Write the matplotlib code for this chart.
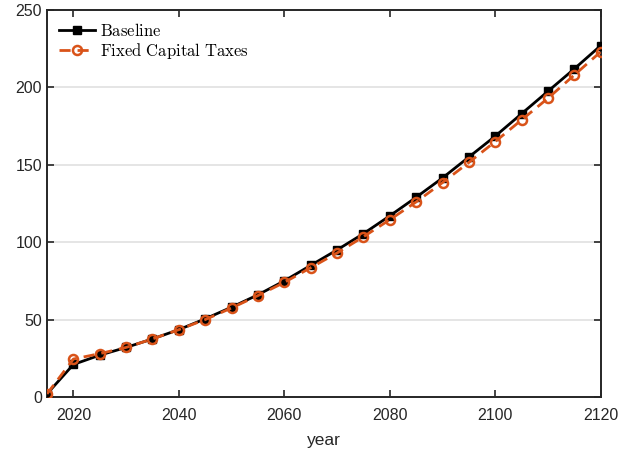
import matplotlib
matplotlib.use("Agg")
import matplotlib.pyplot as plt

plt.rcParams['font.family'] = ['Liberation Sans', 'DejaVu Sans']
plt.rcParams['mathtext.fontset'] = 'cm'

years = list(range(2015, 2121, 5))
baseline = [2, 21, 27, 32, 37.5, 43.5, 50.5, 58, 66, 75, 85, 95, 105.5, 117,
            129, 141.5, 155, 168.5, 183, 197.5, 212, 227]
fixed_cap = [2, 24.5, 28, 32, 37.5, 43.5, 50, 57.5, 65.5, 74, 83.5, 93, 103.5,
             114.5, 126, 138.5, 151.5, 165, 179, 193, 208, 223]

xticks = [2020, 2040, 2060, 2080, 2100, 2120]
yticks = [0, 50, 100, 150, 200, 250]

fig = plt.figure(figsize=(6.31, 4.54), dpi=100)
ax = fig.add_axes([0.0745, 0.1256, 0.8775, 0.8524])

ax.plot(years, baseline, color='black', lw=2, marker='s', ms=5.5,
        mfc='black', mec='black', label=r'$\mathrm{Baseline}$', zorder=3)
ax.plot(years, fixed_cap, color='#D95319', lw=2, ls=(0, (4, 2.5)), marker='o', ms=6.5,
        mfc='none', mec='#D95319', mew=1.8, label=r'$\mathrm{Fixed\ Capital\ Taxes}$', zorder=4)

ax.set_xlim(2015, 2120)
ax.set_ylim(0, 250)
ax.set_xticks(xticks)
ax.set_yticks(yticks)
ax.yaxis.grid(True, color='#e0e0e0', lw=1.2)
ax.set_axisbelow(True)
ax.tick_params(direction='in', top=True, right=True, labelsize=11.5,
               colors='#262626', width=1.2, length=5)
ax.tick_params(axis='x', pad=8)
for s in ax.spines.values():
    s.set_color('#262626')
    s.set_linewidth(1.4)

ax.set_xlabel('year', fontsize=12.5, color='#262626', labelpad=7)

leg = ax.legend(loc='upper left', frameon=False, fontsize=12, handlelength=2.2,
                handletextpad=0.3, labelspacing=0.15, borderaxespad=0.3)

plt.savefig("out.png")
